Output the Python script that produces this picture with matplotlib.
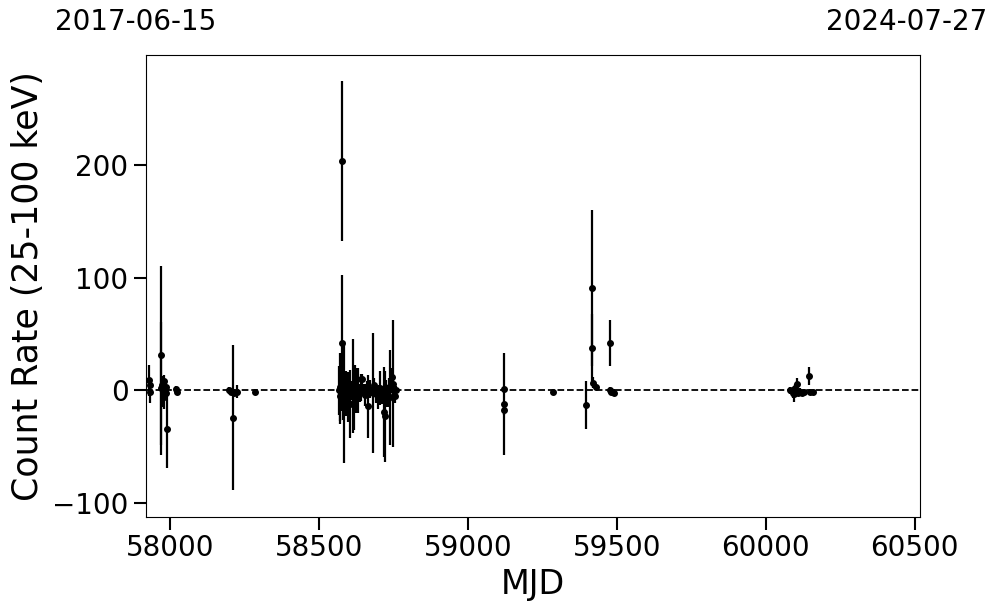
import numpy as np
import matplotlib
matplotlib.use("Agg")
from matplotlib import pyplot as plt

# light curve values (MJD, count rate, 1-sigma error)
mjd = np.array([
    57930, 57931, 57932, 57968, 57971, 57973, 57975, 57977, 57979, 57981,
    57983, 57985, 57987, 57990, 58020, 58022,
    58198, 58204, 58210, 58213, 58223, 58285,
    58566, 58569, 58571, 58576, 58577, 58579, 58582, 58585, 58588, 58591,
    58594, 58597, 58600, 58604, 58607, 58615, 58617, 58620, 58624, 58628,
    58632, 58636, 58640, 58645, 58650, 58655, 58660, 58666, 58670, 58680,
    58684, 58690, 58697, 58700, 58705, 58712, 58719, 58720, 58724, 58730,
    58735, 58740, 58744, 58748, 58750, 58754, 58760,
    59120, 59121, 59122, 59286,
    59397, 59415, 59417, 59419, 59430, 59477, 59478, 59482, 59492,
    60081, 60090, 60096, 60098, 60104, 60108, 60115, 60122, 60130, 60145,
    60150, 60157])
rate = np.array([
    9, 5, -1, 31, 2, 5, -3, 1, -6, 8,
    0, -2, 3, -34, 1, -1,
    0, -1, -24, -2, -1, -1,
    0, -5, 3, 203, 42, -8, 4, -10, 2, -3,
    5, -6, 1, -12, 0, 4, -10, 15, -5, 10,
    0, -2, 3, 10, 0, -4, 2, -14, 1, -2,
    5, -3, -6, 0, 2, -4, -19, -23, -3, -5,
    3, -6, 12, 6, 0, -5, 0,
    1, -12, -17, -1,
    -13, 91, 38, 7, 3, 42, 0, -1, -2,
    0, -2, -3, 2, 6, -2, -1, -2, -1, 13,
    -1, -1])
err = np.array([
    14, 6, 10, 79, 59, 8, 12, 6, 10, 6,
    4, 5, 5, 35, 3, 3,
    3, 3, 64, 3, 6, 2,
    22, 25, 30, 71, 60, 18, 15, 54, 12, 20,
    10, 22, 14, 30, 8, 42, 25, 8, 15, 10,
    20, 8, 12, 5, 6, 10, 6, 28, 8, 53,
    6, 8, 10, 5, 15, 8, 40, 40, 12, 10,
    8, 42, 8, 56, 10, 6, 4,
    2, 45, 5, 2,
    21, 69, 30, 5, 3, 20, 3, 3, 3,
    3, 5, 7, 4, 5, 3, 3, 2, 2, 8,
    2, 2])

start_mjd, stop_mjd = 57919, 60518
start_date, stop_date = "2017-06-15", "2024-07-27"

fig = plt.figure(figsize=(9.97, 6.13), dpi=100)
ax = fig.add_axes([0.1464, 0.1566, 0.7764, 0.7537])

ax.errorbar(mjd, rate, yerr=err, fmt='o', color='k', ms=4, elinewidth=1.6, capsize=0)
ax.axhline(0, color='k', ls='--', lw=1.3)

ax.set_xlim(start_mjd, stop_mjd)
ax.set_ylim(-112, 297)
ax.set_xticks([58000, 58500, 59000, 59500, 60000, 60500])
ax.set_yticks([-100, 0, 100, 200])
ax.tick_params(axis='both', labelsize=20, length=9, width=1.5)

ax.set_xlabel("MJD", fontsize=24)
ax.set_ylabel("Count Rate (25-100 keV)", fontsize=25, labelpad=5)

# start / stop dates over the top corners
ax.text(-0.013, 1.071, start_date, transform=ax.transAxes, ha='center', va='center', fontsize=20)
ax.text(0.983, 1.071, stop_date, transform=ax.transAxes, ha='center', va='center', fontsize=20)

fig.savefig("out.png", dpi=100)
